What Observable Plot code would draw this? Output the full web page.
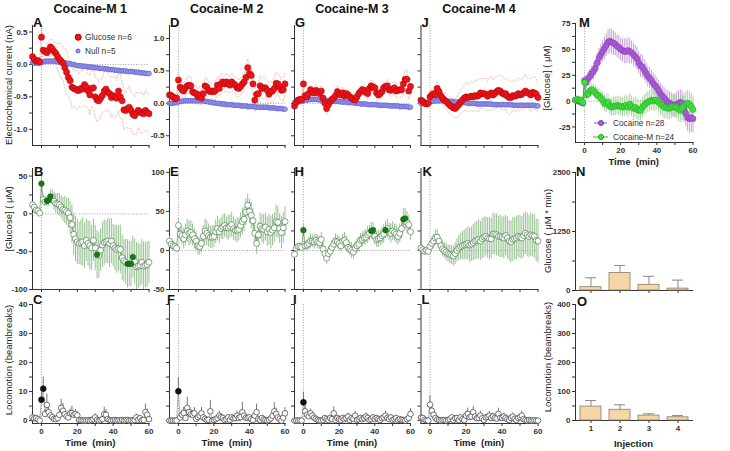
<!DOCTYPE html>
<html><head><meta charset="utf-8">
<script src="https://cdn.jsdelivr.net/npm/d3@7"></script>
<script src="https://cdn.jsdelivr.net/npm/@observablehq/plot@0.6"></script>
<style>
body{margin:0;background:#fff;}
#wrap{position:relative;width:730px;height:451px;overflow:hidden;background:#fff;font-family:"Liberation Sans",Arial,Helvetica,sans-serif;color:#111;}
.lbl{position:absolute;white-space:pre;line-height:1;}
.title{font-weight:bold;font-size:12.5px;transform:translate(-50%,-50%);}
.letter{font-weight:bold;font-size:13px;}
.ylab{font-size:9.5px;transform:translate(-50%,-50%) rotate(-90deg);color:#222;}
.xlab{font-weight:bold;font-size:9.5px;transform:translate(-50%,-50%);color:#222;}
.leg{font-size:8.3px;transform:translateY(-50%);color:#333;}
.mk{position:absolute;border-radius:50%;transform:translate(-50%,-50%);}
.ln{position:absolute;height:1px;transform:translateY(-50%);}
</style></head><body><div id="wrap"></div><script>
// ---------- data ----------
const TIME = d3.range(-5, 61); // minutes, 1-min bins
const X_TICKS = [0, 10, 20, 30, 40, 50, 60];
const TITLES = ["Cocaine-M 1", "Cocaine-M 2", "Cocaine-M 3", "Cocaine-M 4"];

// electrochemical current (nA): glucose sensors (red) and null sensors (blue)
const A_RED = [0.12,0.08,0.05,0.06,0.04,
 0.42,0.22,0.20,0.18,0.22,0.27,0.24,0.20,0.17,0.12,
 0.08,0.05,0.02,-0.05,-0.12,-0.20,-0.25,-0.35,-0.37,-0.38,
 -0.40,-0.40,-0.37,-0.38,-0.31,-0.35,-0.41,-0.47,-0.37,-0.36,
 -0.50,-0.55,-0.56,-0.52,-0.48,-0.41,-0.38,-0.43,-0.45,-0.51,
 -0.48,-0.50,-0.52,-0.41,-0.50,-0.56,-0.70,-0.71,-0.68,-0.66,
 -0.71,-0.77,-0.79,-0.75,-0.71,-0.73,-0.75,-0.76,-0.71,-0.74,-0.76];
const A_RED_ERR = [0.06,0.05,0.06,0.05,0.06,
 0.20,0.15,0.13,0.12,0.14,0.12,0.14,0.15,0.17,0.20,
 0.24,0.27,0.25,0.30,0.33,0.30,0.28,0.32,0.27,0.30,
 0.28,0.25,0.30,0.27,0.33,0.29,0.26,0.31,0.28,0.32,
 0.30,0.34,0.28,0.31,0.26,0.30,0.33,0.29,0.27,0.31,
 0.29,0.32,0.27,0.30,0.34,0.28,0.31,0.26,0.30,0.33,
 0.28,0.31,0.29,0.33,0.27,0.30,0.32,0.28,0.31,0.29,0.30];
const A_BLUE = [0.03,0.02,0.02,0.02,0.02,
 0.03,0.04,0.05,0.05,0.05,0.05,0.05,0.05,0.05,0.04,
 0.04,0.03,0.03,0.02,0.02,0.01,0.01,0.00,0.00,-0.01,
 -0.02,-0.02,-0.02,-0.03,-0.03,-0.03,-0.04,-0.04,-0.04,-0.05,
 -0.05,-0.05,-0.06,-0.06,-0.06,-0.07,-0.07,-0.07,-0.08,-0.08,
 -0.08,-0.09,-0.09,-0.09,-0.10,-0.10,-0.10,-0.10,-0.11,-0.11,
 -0.11,-0.11,-0.12,-0.12,-0.12,-0.13,-0.13,-0.13,-0.14,-0.14,-0.14];

const D_RED = [0.13,0.12,0.10,0.07,0.08,
 0.36,0.25,0.21,0.19,0.24,0.27,0.28,0.27,0.18,0.16,
 0.15,0.10,0.13,0.08,0.15,0.27,0.25,0.20,0.18,0.19,
 0.18,0.20,0.28,0.23,0.30,0.33,0.30,0.33,0.30,0.28,
 0.33,0.30,0.28,0.24,0.23,0.26,0.30,0.33,0.40,0.55,
 0.46,0.43,0.30,0.05,0.14,0.15,0.27,0.23,0.24,0.24,
 0.20,0.14,0.18,0.19,0.23,0.31,0.30,0.25,0.20,0.21,0.30];
const D_RED_ERR = [0.05,0.06,0.05,0.06,0.05,
 0.10,0.12,0.11,0.13,0.12,0.14,0.12,0.13,0.11,0.12,
 0.13,0.12,0.14,0.11,0.13,0.12,0.14,0.12,0.13,0.11,
 0.12,0.14,0.13,0.12,0.15,0.13,0.12,0.14,0.13,0.12,
 0.14,0.13,0.12,0.15,0.13,0.12,0.14,0.13,0.13,0.14,
 0.15,0.14,0.16,0.18,0.15,0.14,0.16,0.15,0.17,0.14,
 0.16,0.18,0.15,0.17,0.16,0.18,0.15,0.17,0.16,0.18,0.16];
const D_BLUE = [0.00,0.00,0.00,0.01,0.01,
 0.02,0.03,0.03,0.04,0.04,0.04,0.04,0.04,0.04,0.04,
 0.04,0.04,0.04,0.04,0.04,0.03,0.03,0.02,0.02,0.01,
 0.01,0.00,0.00,0.00,-0.01,-0.01,-0.01,-0.02,-0.02,-0.02,
 -0.02,-0.03,-0.03,-0.03,-0.03,-0.04,-0.04,-0.04,-0.04,-0.05,
 -0.05,-0.05,-0.05,-0.05,-0.06,-0.06,-0.06,-0.06,-0.06,-0.06,
 -0.06,-0.07,-0.07,-0.07,-0.07,-0.08,-0.08,-0.08,-0.08,-0.09,-0.09];

const G_RED = [-0.04,0.02,0.05,0.06,0.06,
 0.30,0.12,0.10,0.15,0.21,0.18,0.16,0.20,0.17,0.15,
 0.19,0.08,0.00,-0.08,-0.02,0.03,0.06,0.08,0.12,0.18,
 0.15,0.13,0.16,0.11,0.15,0.13,0.10,0.08,0.06,0.05,
 0.10,0.15,0.18,0.21,0.20,0.17,0.15,0.23,0.27,0.25,
 0.24,0.16,0.13,0.15,0.18,0.24,0.26,0.27,0.21,0.20,
 0.22,0.24,0.19,0.20,0.21,0.21,0.30,0.37,0.37,0.19,0.26];
const G_RED_ERR = [0.04,0.05,0.04,0.05,0.04,
 0.08,0.07,0.06,0.08,0.07,0.08,0.07,0.09,0.08,0.07,
 0.08,0.09,0.10,0.09,0.08,0.07,0.08,0.07,0.08,0.09,
 0.08,0.07,0.09,0.08,0.07,0.08,0.09,0.08,0.07,0.08,
 0.09,0.08,0.07,0.09,0.08,0.09,0.08,0.10,0.09,0.08,
 0.09,0.10,0.09,0.08,0.10,0.09,0.08,0.10,0.09,0.10,
 0.09,0.10,0.11,0.10,0.12,0.11,0.13,0.14,0.15,0.12,0.12];
const G_BLUE = [0.01,0.02,0.02,0.03,0.03,
 0.04,0.05,0.05,0.06,0.06,0.06,0.06,0.06,0.06,0.05,
 0.05,0.05,0.05,0.04,0.04,0.04,0.04,0.03,0.03,0.03,
 0.03,0.02,0.02,0.02,0.02,0.01,0.01,0.01,0.01,0.00,
 0.00,0.00,-0.01,-0.01,-0.01,-0.01,-0.02,-0.02,-0.02,-0.02,
 -0.02,-0.02,-0.03,-0.03,-0.03,-0.03,-0.03,-0.03,-0.04,-0.04,
 -0.04,-0.04,-0.04,-0.04,-0.05,-0.05,-0.05,-0.05,-0.05,-0.06,-0.06];

const J_RED = [0.05,0.03,0.00,-0.01,0.00,
 0.10,0.13,0.15,0.13,0.23,0.18,0.12,0.08,0.05,0.03,
 0.00,-0.03,-0.05,-0.07,-0.08,-0.05,-0.02,0.02,0.05,0.08,
 0.10,0.09,0.10,0.11,0.10,0.12,0.11,0.12,0.16,0.15,
 0.15,0.14,0.11,0.14,0.16,0.13,0.15,0.18,0.20,0.19,
 0.16,0.14,0.15,0.11,0.09,0.09,0.12,0.11,0.12,0.15,
 0.13,0.14,0.16,0.19,0.17,0.15,0.13,0.17,0.16,0.14,0.09];
const J_RED_ERR = [0.05,0.04,0.05,0.04,0.05,
 0.08,0.09,0.10,0.09,0.11,0.10,0.09,0.10,0.11,0.12,
 0.12,0.13,0.12,0.14,0.15,0.16,0.18,0.17,0.19,0.20,
 0.21,0.22,0.20,0.23,0.22,0.24,0.23,0.25,0.22,0.24,
 0.23,0.25,0.22,0.24,0.26,0.23,0.25,0.24,0.22,0.25,
 0.26,0.24,0.23,0.25,0.27,0.24,0.22,0.25,0.23,0.24,
 0.25,0.23,0.24,0.26,0.22,0.24,0.25,0.23,0.26,0.24,0.22];
const J_BLUE = [0.00,0.01,0.01,0.01,0.02,
 0.02,0.03,0.03,0.04,0.04,0.04,0.04,0.04,0.04,0.03,
 0.03,0.03,0.03,0.02,0.02,0.02,0.02,0.01,0.01,0.01,
 0.01,0.00,0.00,0.00,0.00,0.00,-0.01,-0.01,-0.01,-0.01,
 -0.01,-0.01,-0.01,-0.01,-0.01,-0.02,-0.02,-0.02,-0.02,-0.02,
 -0.02,-0.02,-0.02,-0.02,-0.02,-0.02,-0.03,-0.03,-0.03,-0.03,
 -0.03,-0.03,-0.03,-0.03,-0.03,-0.03,-0.03,-0.03,-0.03,-0.04,-0.04];

// [Glucose] (uM) mean and SEM, with significant time points
const B_MEAN = [12,9,5,4,1, 40,19,16,17,18,23,22,17,14,13, 12,9,6,5,3,1,-5,-14,-27,-33,
 -37,-39,-38,-37,-42,-35,-39,-42,-45,-35, -45,-54,-55,-48,-41,-38,-37,-36,-39,-36,
 -42,-45,-47,-46,-47,-58,-62,-64,-66,-66, -66,-57,-63,-70,-69,-68,-64,-69,-68,-67,-64];
const B_ERR = [4,4,3,3,3, 12,6,6,7,8,9,10,12,13,14, 15,15,16,18,18,20,22,25,28,30,
 30,28,30,32,30,28,30,32,30,28, 30,32,30,28,30,30,28,30,32,30,
 28,30,32,30,32,30,28,30,32,30, 30,28,30,32,30,28,30,32,30,30,28];
const B_SIG = [0,3,4,5,31,48,49,50,51];
const E_MEAN = [12,8,6,5,3, 32,21,19,15,20,25,22,23,20,15, 12,6,5,9,18,25,22,19,17,17,
 18,24,28,24,28,30,32,29,29,31, 33,28,26,26,27,32,37,40,49,58,
 50,45,38,22,9,20,31,28,27,30, 24,27,23,26,29,37,36,28,23,29,37];
const E_ERR = [6,7,6,5,5, 9,10,12,13,14,15,16,15,14,13, 12,12,11,12,14,15,16,15,14,15,
 14,15,16,15,14,16,15,14,16,15, 16,15,14,16,15,16,17,16,17,14,
 16,17,16,15,14,16,17,18,19,18, 19,20,21,20,19,21,20,19,21,20,19];
const E_SIG = [];
const H_MEAN = [-5,3,5,5,4, 26,6,7,9,12,12,11,13,11,10, 14,2,-4,-10,-4,-1,4,8,12,11,
 9,6,12,13,10,4,2,0,-2,3, 6,8,13,14,16,17,20,22,25,26,
 18,14,15,16,19,21,26,28,24,22, 25,23,21,18,22,28,40,41,36,33,24];
const H_ERR = [5,4,4,5,4, 8,6,7,8,9,8,9,8,9,8, 9,8,9,8,9,8,9,8,9,8,
 9,8,9,10,9,8,9,10,9,8, 9,10,9,10,9,10,11,10,11,10,
 11,10,11,10,11,12,11,12,11,12, 12,11,12,11,12,13,14,13,14,12,11];
const H_SIG = [0,38,39,46,56,57];
const K_MEAN = [3,1,-1,0,-1, 5,9,12,16,17,12,6,2,0,-2, -4,-5,-6,-7,-4,0,3,5,6,7,
 8,9,7,8,10,12,13,14,12,15, 17,18,16,15,15,21,21,20,18,18,
 17,16,19,16,12,11,14,15,16,18, 17,16,19,22,20,18,20,19,18,13,12];
const K_ERR = [5,4,5,4,5, 7,8,9,10,10,9,9,10,10,11, 11,12,12,13,14,15,16,17,18,19,
 20,21,22,22,23,24,24,25,25,26, 26,25,26,27,26,27,26,27,26,27,
 26,27,26,27,26,27,28,27,28,27, 28,27,28,27,28,27,28,27,28,27,28];
const K_SIG = [];

// locomotion (beambreaks) mean and SEM
const C_MEAN = [1.1,0.8,0.9,0.5,0, 7.2,11,2.3,5.4,2.9,1.8,1.2,0.6,0.5,0.9,
 2,4.4,3.4,2.2,1.5,1.1,2.5,2.6,2.0,2.3, 1.8,0.2,0.1,0,0,0,0.1,0,0.2,0.5,
 1.1,0.3,0,0.2,0.5,2.2,2.0,0.5,0.2,0, 0.1,0.2,0,0.1,0,0.2,0,0.1,0.2,0,
 0.1,0,0.2,1.1,0.3,0.8,0.1,0.2,2.9,2.0,0.5];
const C_ERR = [0.8,0.6,0.7,0.5,0.3, 2.5,4,1.5,3.8,1.5,1,0.8,0.6,0.5,0.8,
 1.5,3,2.5,1.5,1,0.8,1.5,2.4,1.2,1.5, 1.2,0.3,0.2,0.2,0.2,0.2,0.3,0.2,0.3,0.5,
 1.2,0.4,0.2,0.3,0.6,2.4,1.8,0.6,0.3,0.2, 0.2,0.3,0.2,0.2,0.2,0.3,0.2,0.2,0.3,0.2,
 0.2,0.2,0.3,1.2,0.4,0.9,0.2,0.3,2.8,2,0.6];
const C_SIG = [0,1];
const F_MEAN = [0,0,0,0,0, 10.1,1.1,2.0,2.6,0.9,4.4,2.9,2.2,2.0,2.5,
 0.6,1.2,1.7,2.5,1.1,0.6,0.2,0.3,3.2,0, 0.2,0.5,0.9,1.7,1.2,0.9,0.2,0.5,1.1,0.2,
 1.1,0.8,0.9,1.7,0.9,1.2,2.9,1.7,1.0,0.9, 1.1,0.5,0.2,1.7,2.9,0.5,0.2,0.9,0.4,0.2,
 0,0.2,0.8,1.7,3.2,2.3,1.1,0.5,0,1.0,2.5];
const F_ERR = [0,0,0,0,0, 4.6,1,1.5,2,1,3.6,2,1.5,1.5,2,
 0.6,1,1.5,2,1,0.6,0.3,0.4,3.8,0.1, 0.3,0.6,1,1.5,1,0.8,0.3,0.6,1,0.3,
 1,0.8,0.9,1.5,0.9,1,3.4,1.5,1,0.9, 1,0.6,0.3,1.5,2.8,0.6,0.3,0.9,0.5,0.3,
 0,0.3,0.8,1.5,3,2,1,0.6,0,1,2];
const F_SIG = [0];
const I_MEAN = [0,0,0,0,0, 6.3,3.2,2.0,1.5,2.5,1.7,1.0,0.6,0.2,0,
 0,0.2,0.9,0.5,0.2,0.9,0.5,2.5,0.2,0.9, 0.5,0.2,0.9,0.5,0.8,1.4,0.2,0.9,0.6,1.7,
 0.2,0.5,0.9,0.5,0.8,1.4,0.9,0.2,0.5,1.1, 0.5,0.9,0.5,0.2,0.8,1.1,1.7,0.9,0.5,1.1,
 0.2,0.5,0.9,0.2,0.5,0.3,0.2,0,0.5,0.9,2.3];
const I_ERR = [0,0,0,0,0, 3.5,2,1.2,1,1.5,1.2,0.8,0.5,0.2,0,
 0,0.2,0.8,0.5,0.2,0.8,0.5,2.2,0.2,0.8, 0.5,0.2,0.8,0.5,0.8,1.2,0.2,0.8,0.6,1.5,
 0.2,0.5,0.8,0.5,0.8,1.2,0.8,0.2,0.5,1, 0.5,0.8,0.5,0.2,0.8,1,1.5,0.8,0.5,1,
 0.2,0.5,0.8,0.2,0.5,0.3,0.2,0,0.5,0.8,1.8];
const I_SIG = [0];
const L_MEAN = [1.0,0.9,0.3,0.1,0, 5.5,3.4,2.0,0.9,0.4,0.2,0,0.1,0.2,0,
 0.2,0.5,1.1,0.2,0.8,0.9,0.2,1.1,0.5,0.2, 1.7,2.3,1.2,1.4,2.9,1.4,0.8,0.9,1.7,0.8,
 0.2,1.1,1.3,1.7,0.9,1.4,0.9,0.7,2.3,1.0, 0.9,1.4,0.9,0.5,0.2,0.9,1.4,0.6,0.2,0.9,
 1.2,1.7,0.5,0.2,0,0.2,0,0,0.1,0,0];
const L_ERR = [0.8,0.7,0.3,0.1,0, 3,2,1.2,0.8,0.4,0.2,0,0.1,0.2,0,
 0.2,0.5,1,0.2,0.8,0.8,0.2,1,0.5,0.2, 1.5,2,1,1.2,2,1.2,0.8,0.8,1.5,0.8,
 0.2,1,1.2,1.5,0.8,1.2,0.8,0.7,2,1, 0.8,1.2,0.8,0.5,0.2,0.8,1.2,0.6,0.2,0.8,
 1,1.5,0.5,0.2,0,0.2,0,0,0.1,0,0];
const L_SIG = [];

// panel M: [Glucose] after cocaine vs cocaine-M
const M_COC = [1,0,0,-1,-2, 20,18,22,24,27,29,32,37,42,45, 48,51,54,57,58,57,56,55,53,52,
 50,49,48,48,49,48,47,45,43,41, 37,34,33,30,27,24,22,20,17,15,
 13,10,7,5,3,1,-1,-2,-3,-4, -4,-3,-2,-1,-2,-8,-12,-16,-17,-16,-17];
const M_COC_ERR = [3,3,3,3,3, 5,6,6,7,7,8,8,9,9,10, 10,11,11,12,12,12,12,11,11,11,
 11,11,12,12,12,12,11,11,11,11, 11,11,11,10,10,10,10,10,10,10,
 10,10,10,10,10,10,11,11,11,11, 11,12,12,12,12,13,13,13,14,14,14];
const M_COCM = [1,2,1,1,-1, 18,6,7,10,11,10,8,6,5,3, 1,-2,-3,-1,-5,-6,-5,-5,-4,-5,
 -5,-6,-5,-4,-6,-3,-5,-7,-6,-8, -9,-9,-6,-4,-2,-1,0,1,0,1,
 1,-1,-3,-4,-6,-6,-7,-7,-6,-5, -6,-6,-8,-9,-7,-5,-3,-2,-3,-5,-8];
const M_COCM_ERR = [3,3,3,3,3, 6,5,5,6,6,6,7,7,7,7, 8,8,8,8,8,9,9,9,9,9,
 9,9,10,10,10,10,10,10,10,10, 10,10,10,10,10,10,10,10,10,10,
 10,10,11,11,11,11,11,11,11,11, 11,11,12,12,12,12,12,12,12,12,12];

// panels N and O: per injection
const INJ = ["1","2","3","4"];
const N_AUC = [70, 370, 120, 40];
const N_AUC_ERR = [200, 160, 180, 180];
const O_LOC = [48, 37, 17, 11];
const O_LOC_ERR = [21, 17, 6, 6];

// ---------- layout ----------
const W = 730, H = 451;
const FONT = '"Liberation Sans", Arial, Helvetica, sans-serif';
const COLS = [[32,148.5],[169,284.5],[294,410],[420.5,537.5]];
const ROWS = [[25,145],[168,289],[304,423]];
const wrap = document.getElementById("wrap");

function mount(svg){
  svg.style.position = "absolute"; svg.style.left = "0px"; svg.style.top = "0px";
  svg.style.background = "transparent"; svg.style.overflow = "visible";
  svg.style.color = "#333"; svg.style.maxWidth = "none";
  svg.setAttribute("font-family", FONT);
  svg.setAttribute("font-size", "8");
  svg.setAttribute("font-weight", "bold");
  wrap.appendChild(svg);
}
const dotted = {stroke:"#777", strokeWidth:0.7, strokeDasharray:"1,1.6"};

function timePlot([x0,x1],[y0,y1], yDomain, yTicks, yFmt, xLabels, marks){
  return Plot.plot({
    width: W, height: H,
    marginLeft: x0, marginRight: W - x1, marginTop: y0, marginBottom: H - y1,
    x: {domain:[-5,60], ticks: X_TICKS, tickFormat: d => (xLabels && d % 20 === 0) ? String(d) : "",
        tickSize: 3, tickPadding: 1.5, line: true, label: null},
    y: {domain: yDomain, ticks: yTicks, tickFormat: yFmt, tickSize: 3, tickPadding: 2, line: true, label: null},
    marks
  });
}
const zip = (v, e, sig) => TIME.map((t,i) => ({t, v: v[i], e: e ? e[i] : 0, s: sig ? sig.includes(t) : false}));

function ecMarks(red, err, blue){
  const R = zip(red, err), Bl = zip(blue);
  const dash = {stroke:"#ec9a8c", strokeWidth:0.6, strokeDasharray:"1.6,1.6"};
  return [
    Plot.ruleY([0], dotted), Plot.ruleX([0], dotted),
    Plot.line(R, {x:"t", y: d => d.v + d.e, ...dash}),
    Plot.line(R, {x:"t", y: d => d.v - d.e, ...dash}),
    Plot.dot(Bl, {x:"t", y:"v", r:2.4, fill:"#9898f0", stroke:"#5b5bc9", strokeWidth:0.6}),
    Plot.dot(R, {x:"t", y:"v", r:3.1, fill:"#e8161c", stroke:"#b50000", strokeWidth:0.5})
  ];
}
function gluMarks(mean, err, sig, yMin){
  const D = zip(mean, err, sig);
  return [
    Plot.ruleY([0], dotted), Plot.ruleX([0], dotted),
    Plot.ruleX(D, {x:"t", y1: d => Math.max(yMin, d.v - d.e), y2: d => d.v + d.e, stroke:"#98c392", strokeWidth:1}),
    Plot.line(D, {x:"t", y:"v", stroke:"#3d7a3d", strokeWidth:0.6}),
    Plot.dot(D.filter(d => !d.s), {x:"t", y:"v", r:3, fill:"white", stroke:"#4d7d4d", strokeWidth:0.7}),
    Plot.dot(D.filter(d => d.s), {x:"t", y:"v", r:2.8, fill:"#167a16", stroke:"#0d5e0d", strokeWidth:0.5})
  ];
}
function locMarks(mean, err, sig){
  const D = zip(mean, err, sig);
  return [
    Plot.ruleX([0], dotted),
    Plot.ruleX(D, {x:"t", y1:"v", y2: d => d.v + d.e, stroke:"#555", strokeWidth:0.8}),
    Plot.line(D, {x:"t", y:"v", stroke:"#666", strokeWidth:0.5}),
    Plot.dot(D.filter(d => !d.s), {x:"t", y:"v", r:2.8, fill:"white", stroke:"#3a3a3a", strokeWidth:0.7}),
    Plot.dot(D.filter(d => d.s), {x:"t", y:"v", r:3, fill:"#111", stroke:"#111", strokeWidth:0.5})
  ];
}

const half = d => Math.abs(d*2 - Math.round(d*2)) < 1e-9 ? d.toFixed(1) : "";
const none = () => "";
const ECT1 = [-1,-0.75,-0.5,-0.25,0,0.25,0.5];
const ECT2 = [-0.5,-0.25,0,0.25,0.5,0.75,1.0];
const GT1 = [-100,-75,-50,-25,0,25,50];
const GT2 = [-50,-25,0,25,50,75,100];
const LT = [0,5,10,15,20,25,30,35,40];
const f50 = d => d % 50 === 0 ? String(d) : "";
const f10 = d => d % 10 === 0 ? String(d) : "";

// row 1
mount(timePlot(COLS[0], ROWS[0], [-1.25,0.6], ECT1, half, false, ecMarks(A_RED, A_RED_ERR, A_BLUE)));
mount(timePlot(COLS[1], ROWS[0], [-0.65,1.2], ECT2, half, false, ecMarks(D_RED, D_RED_ERR, D_BLUE)));
mount(timePlot(COLS[2], ROWS[0], [-0.65,1.2], ECT2, none, false, ecMarks(G_RED, G_RED_ERR, G_BLUE)));
mount(timePlot(COLS[3], ROWS[0], [-0.65,1.2], ECT2, none, false, ecMarks(J_RED, J_RED_ERR, J_BLUE)));
// row 2
mount(timePlot(COLS[0], ROWS[1], [-100,60], GT1, f50, false, gluMarks(B_MEAN, B_ERR, B_SIG, -100)));
mount(timePlot(COLS[1], ROWS[1], [-50,105], GT2, f50, false, gluMarks(E_MEAN, E_ERR, E_SIG, -50)));
mount(timePlot(COLS[2], ROWS[1], [-50,105], GT2, none, false, gluMarks(H_MEAN, H_ERR, H_SIG, -50)));
mount(timePlot(COLS[3], ROWS[1], [-50,105], GT2, none, false, gluMarks(K_MEAN, K_ERR, K_SIG, -50)));
// row 3
mount(timePlot(COLS[0], ROWS[2], [-1,40], LT, f10, true, locMarks(C_MEAN, C_ERR, C_SIG)));
mount(timePlot(COLS[1], ROWS[2], [-1,40], LT, none, true, locMarks(F_MEAN, F_ERR, F_SIG)));
mount(timePlot(COLS[2], ROWS[2], [-1,40], LT, none, true, locMarks(I_MEAN, I_ERR, I_SIG)));
mount(timePlot(COLS[3], ROWS[2], [-1,40], LT, none, true, locMarks(L_MEAN, L_ERR, L_SIG)));

// panel M
{
  const P = zip(M_COC, M_COC_ERR), G = zip(M_COCM, M_COCM_ERR);
  mount(timePlot([575,692.5],[23,142], [-40,75], [-25,-12.5,0,12.5,25,37.5,50,62.5,75],
    d => d % 25 === 0 ? String(d) : "", true, [
      Plot.ruleY([0], dotted), Plot.ruleX([0], dotted),
      Plot.ruleX(P, {x:"t", y1: d => d.v - d.e, y2: d => d.v + d.e, stroke:"#c6a4da", strokeWidth:1}),
      Plot.ruleX(G, {x:"t", y1: d => d.v - d.e, y2: d => d.v + d.e, stroke:"#a9d6a2", strokeWidth:1}),
      Plot.line(P, {x:"t", y:"v", stroke:"#9b4ad0", strokeWidth:1}),
      Plot.dot(P, {x:"t", y:"v", r:3, fill:"#a95ad8", stroke:"#853ab5", strokeWidth:0.5}),
      Plot.line(G, {x:"t", y:"v", stroke:"#27c227", strokeWidth:1}),
      Plot.dot(G, {x:"t", y:"v", r:3, fill:"#3fe03f", stroke:"#20a020", strokeWidth:0.5})
    ]));
}
// panels N and O
function barPlot([y0,y1], vals, errs, yDomain, yTicks, yFmt, xLabels){
  const D = INJ.map((k,i) => ({inj:k, v: vals[i], e: errs[i]}));
  return Plot.plot({
    width: W, height: H, marginLeft: 575, marginRight: W - 692, marginTop: y0, marginBottom: H - y1,
    x: {type:"band", domain: INJ, paddingInner:0.29, paddingOuter:0.14, tickSize:3, tickPadding:1.5,
        tickFormat: d => xLabels ? d : "", line: true, label: null},
    y: {domain: yDomain, ticks: yTicks, tickFormat: yFmt, tickSize:3, tickPadding:2, line:true, label:null},
    marks: [
      Plot.ruleX(D, {x:"inj", y1:"v", y2: d => d.v + d.e, stroke:"#8a8a8a", strokeWidth:1}),
      Plot.tickY(D, {x:"inj", y: d => d.v + d.e, stroke:"#8a8a8a", strokeWidth:1, insetLeft:5, insetRight:5}),
      Plot.barY(D, {x:"inj", y:"v", fill:"#f5d6a6", stroke:"#8c7b68", strokeWidth:0.8})
    ]
  });
}
mount(barPlot([172,290], N_AUC, N_AUC_ERR, [0,2500], [0,625,1250,1875,2500], d => d % 1250 === 0 ? String(d) : "", false));
mount(barPlot([304,420], O_LOC, O_LOC_ERR, [0,400], [0,50,100,150,200,250,300,350,400], d => d % 100 === 0 ? String(d) : "", true));

// ---------- text ----------
function label(text, x, y, cls, extra){
  const el = document.createElement("div");
  el.className = "lbl " + cls; el.textContent = text;
  el.style.left = x + "px"; el.style.top = y + "px";
  if (extra) Object.assign(el.style, extra);
  wrap.appendChild(el); return el;
}
COLS.forEach(([a,b], i) => {
  label(TITLES[i], (a+b)/2, 9, "title");
  label("Time  (min)", (a+b)/2, 443, "xlab");
});
label("Time  (min)", 633.7, 162, "xlab");
label("Injection", 633.5, 444, "xlab");
const LETTERS = [["A",33,16.3],["D",170,16.3],["G",295,16.3],["J",421.5,16.3],["M",579,16.3],
  ["B",34,164.8],["E",170,164.8],["H",294.5,164.8],["K",422.5,164.8],["N",576,164.5],
  ["C",33,293.3],["F",167,293.3],["I",293,293.3],["L",421.5,293.3],["O",577,294.5]];
LETTERS.forEach(([t,x,y]) => label(t, x, y, "letter"));
label("Electrochemical current (nA)", 9, 85, "ylab");
label("[Glucose] ( \u03bcM)", 9, 219, "ylab");
label("Locomotion (beambreaks)", 9, 360, "ylab");
label("[Glucose] ( \u03bcM)", 547, 78, "ylab");
label("Glucose ( \u03bcM * min)", 548, 231, "ylab");
label("Locomotion (beambreaks)", 548, 357, "ylab");
// legends
function marker(x, y, r, fill, stroke){
  const m = document.createElement("div"); m.className = "mk";
  Object.assign(m.style, {left:x+"px", top:y+"px", width:(2*r)+"px", height:(2*r)+"px", background:fill, border:"0.5px solid "+stroke, boxSizing:"border-box"});
  wrap.appendChild(m);
}
function seg(x0, x1, y, color){
  const l = document.createElement("div"); l.className = "ln";
  Object.assign(l.style, {left:x0+"px", top:y+"px", width:(x1-x0)+"px", background:color});
  wrap.appendChild(l);
}
marker(78, 37, 3.3, "#e8161c", "#b50000"); label("Glucose n=6", 85, 37, "leg");
marker(77.5, 51, 2.5, "#9898f0", "#5b5bc9"); label("Null n=5", 85, 51, "leg");
seg(594, 607, 123, "#9b4ad0"); marker(600.5, 123, 3, "#a95ad8", "#853ab5"); label("Cocaine n=28", 613, 123, "leg");
seg(593, 608, 137, "#27c227"); marker(600.5, 137, 3, "#3fe03f", "#20a020"); label("Cocaine-M n=24", 613, 137, "leg");
</script></body></html>
